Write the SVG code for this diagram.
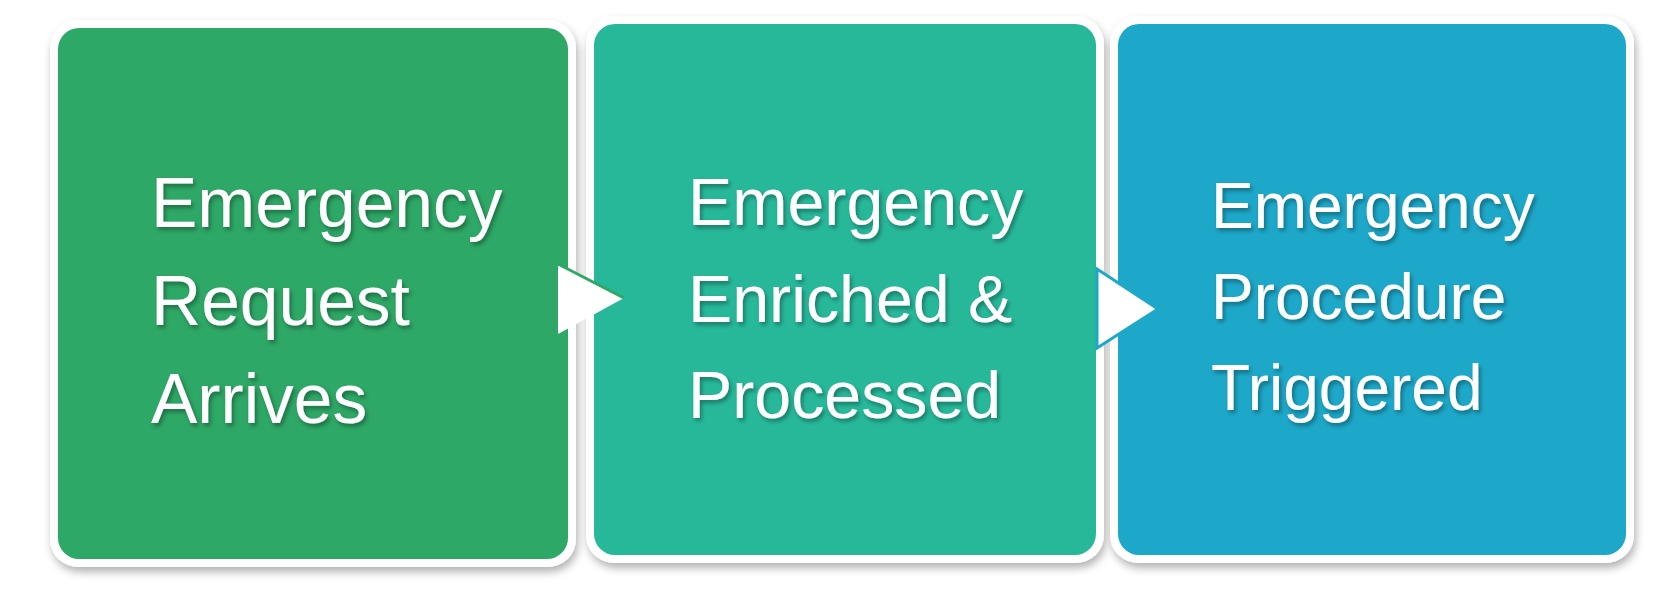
<svg xmlns="http://www.w3.org/2000/svg" width="1670" height="594" viewBox="0 0 1670 594">
  <defs>
    <filter id="boxShadow" x="-10%" y="-10%" width="125%" height="125%">
      <feDropShadow dx="2" dy="5" stdDeviation="4" flood-color="#000" flood-opacity="0.3"/>
    </filter>
    <filter id="textShadow" x="-10%" y="-10%" width="125%" height="130%">
      <feDropShadow dx="2" dy="3" stdDeviation="2" flood-color="#000" flood-opacity="0.35"/>
    </filter>
  </defs>
  <style>
    .frame { fill: #ffffff; filter: url(#boxShadow); }
    .label { font-family: "Liberation Sans", Arial, sans-serif; fill: #ffffff; filter: url(#textShadow); }
  </style>
  <rect width="1670" height="594" fill="#ffffff"/>
  <g id="node-request">
    <rect class="frame" x="50" y="20" width="526" height="547" rx="28"/>
    <rect x="58" y="28" width="510" height="531" rx="21" fill="#2EA866"/>
    <text class="label" font-size="69.5">
      <tspan x="151" y="227">Emergency</tspan>
      <tspan x="151" y="325">Request</tspan>
      <tspan x="151" y="423">Arrives</tspan>
    </text>
  </g>
  <g id="node-enriched">
    <rect class="frame" x="586" y="16" width="518" height="547" rx="28"/>
    <rect x="594" y="24" width="502" height="531" rx="21" fill="#27B89A"/>
    <text class="label" font-size="66.3">
      <tspan x="688" y="225">Emergency</tspan>
      <tspan x="688" y="322">Enriched &amp;</tspan>
      <tspan x="688" y="418">Processed</tspan>
    </text>
  </g>
  <g id="node-procedure">
    <rect class="frame" x="1110" y="16" width="524" height="547" rx="28"/>
    <rect x="1118" y="24" width="508" height="531" rx="21" fill="#1DA8C9"/>
    <text class="label" font-size="64">
      <tspan x="1211" y="228">Emergency</tspan>
      <tspan x="1211" y="319">Procedure</tspan>
      <tspan x="1211" y="410">Triggered</tspan>
    </text>
  </g>
  <g id="connectors">
    <polygon points="558,264 624,298 558,334" fill="#ffffff"/>
    <polyline points="558,264 624,298" fill="none" stroke="#2EA866" stroke-width="3" stroke-linejoin="round"/>
    <polygon points="1097,269 1158,309 1097,348" fill="#ffffff" stroke="#1DA8C9" stroke-width="3" stroke-linejoin="miter"/>
  </g>
</svg>
